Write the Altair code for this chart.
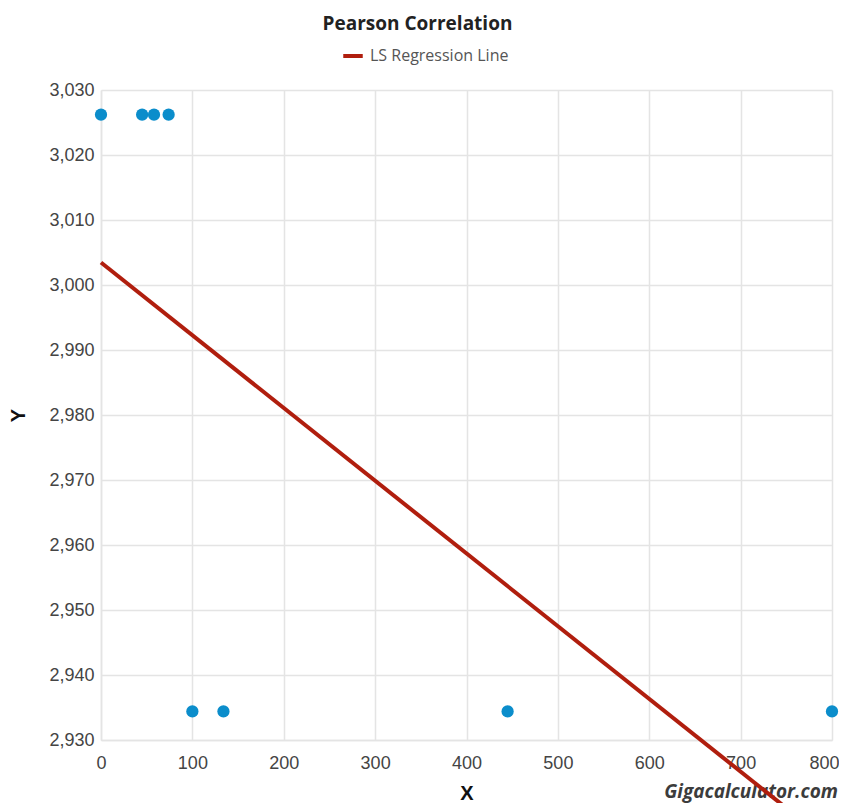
import altair as alt
import pandas as pd

# ---- data ----
x_vals = [0, 45, 58, 74, 100, 134, 445, 800]
y_vals = [3026.2, 3026.2, 3026.2, 3026.2, 2934.4, 2934.4, 2934.4, 2934.4]
x_ticks = [0, 100, 200, 300, 400, 500, 600, 700, 800]
y_ticks = [2930, 2940, 2950, 2960, 2970, 2980, 2990, 3000, 3010, 3020, 3030]
series_name = "LS Regression Line"
chart_title = "Pearson Correlation"
watermark = "Gigacalculator.com"

df = pd.DataFrame({"x": x_vals, "y": y_vals})
wm_df = pd.DataFrame({"t": [watermark]})

W, H = 731, 650
POINT_COLOR = "#0b8dcb"
LINE_COLOR = "#b01e0e"
GRID = "#e4e4e4"

xscale = alt.Scale(domain=[x_ticks[0], x_ticks[-1]], nice=False, zero=False)
yscale = alt.Scale(domain=[y_ticks[0], y_ticks[-1]], nice=False, zero=False)

last_x = f"datum.value == {x_ticks[-1]}"
xaxis = alt.Axis(
    values=x_ticks, title="X", format="d", labelPadding=14,
    titlePadding=11, grid=True, labelFlush=False,
    labelAlign={"condition": {"test": last_x, "value": "right"}, "value": "center"},
    labelOffset={"condition": {"test": last_x, "value": 7}, "value": 0},
)
yaxis = alt.Axis(values=y_ticks, title="Y", format=",d", labelPadding=7,
                 titlePadding=20, grid=True, labelFlush=False)

points = alt.Chart(df).mark_circle(size=150, opacity=1, color=POINT_COLOR).encode(
    x=alt.X("x:Q", scale=xscale, axis=xaxis),
    y=alt.Y("y:Q", scale=yscale, axis=yaxis),
)

line = (
    alt.Chart(df)
    .transform_regression("x", "y", extent=[x_ticks[0], x_ticks[-1]])
    .transform_calculate(series=f"'{series_name}'")
    .mark_line(strokeWidth=4, clip=False)
    .encode(
        x=alt.X("x:Q", scale=xscale),
        y=alt.Y("y:Q", scale=yscale),
        color=alt.Color(
            "series:N",
            scale=alt.Scale(domain=[series_name], range=[LINE_COLOR]),
            legend=alt.Legend(
                title=None, orient="none", legendX=240, legendY=-46,
                symbolType="stroke", symbolSize=380, symbolStrokeWidth=4,
                labelFont="Open Sans", labelFontSize=16, labelColor="#555555",
                labelOffset=5,
            ),
        ),
    )
)

wm = alt.Chart(wm_df).mark_text(
    align="right", baseline="middle", font="Open Sans", fontSize=19,
    fontWeight="bold", fontStyle="italic", color="#3c3c3c",
).encode(x=alt.value(W + 6), y=alt.value(H + 52), text="t:N")

chart = (
    alt.layer(points, wm, line)
    .properties(
        width=W, height=H,
        title=alt.TitleParams(chart_title, font="Open Sans", fontSize=19,
                              fontWeight="bold", color="#222222", dx=-49,
                              offset=10, anchor="middle"),
        autosize=alt.AutoSizeParams(type="none"),
        padding={"left": 93, "top": 82, "right": 7, "bottom": 63},
        background="white",
    )
    .configure_view(strokeWidth=0)
    .configure_axis(
        gridColor=GRID, gridWidth=1.5, domainColor=GRID, domainWidth=1.5,
        ticks=False, labelFont="Liberation Sans", labelFontSize=18,
        labelColor="#444444", titleFont="Liberation Sans", titleFontSize=20,
        titleFontWeight="bold", titleColor="#111111",
    )
)

chart.save("out.html", embed_options={"renderer": "svg", "actions": False})
